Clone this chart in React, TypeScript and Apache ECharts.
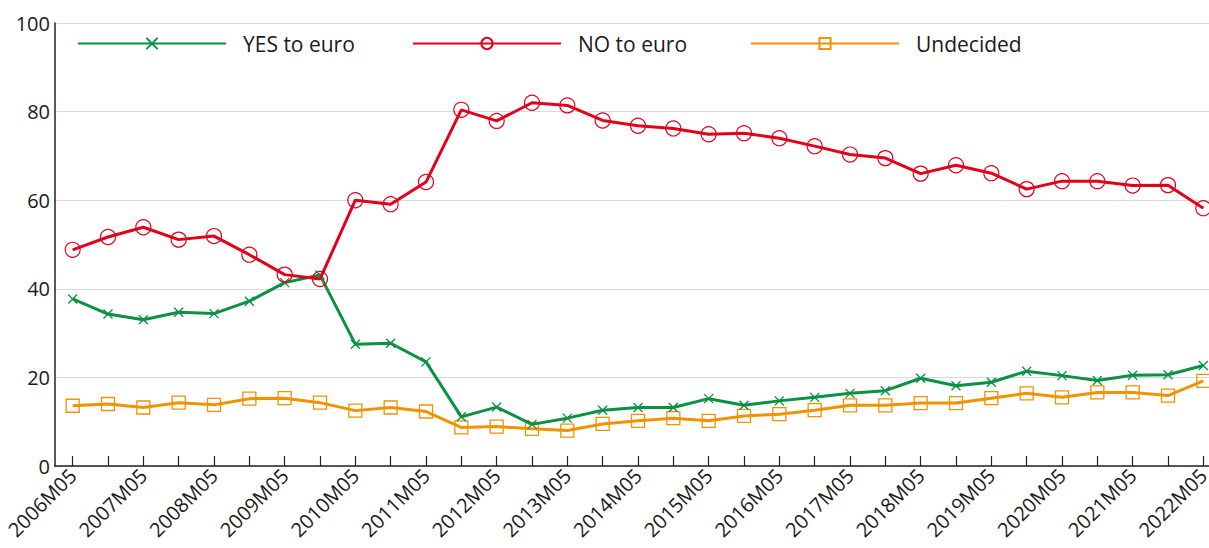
import React, { useEffect, useRef } from 'react';
import * as echarts from 'echarts';

const categories = [
  '2006M05', '2006M11', '2007M05', '2007M11', '2008M05', '2008M11', '2009M05', '2009M11',
  '2010M05', '2010M11', '2011M05', '2011M11', '2012M05', '2012M11', '2013M05', '2013M11',
  '2014M05', '2014M11', '2015M05', '2015M11', '2016M05', '2016M11', '2017M05', '2017M11',
  '2018M05', '2018M11', '2019M05', '2019M11', '2020M05', '2020M11', '2021M05', '2021M11',
  '2022M05',
];

const yesToEuro = [
  37.7, 34.3, 33.0, 34.7, 34.4, 37.2, 41.4, 43.1, 27.5, 27.7, 23.5, 11.1, 13.3, 9.4, 10.8, 12.6,
  13.2, 13.2, 15.2, 13.7, 14.7, 15.5, 16.4, 17.0, 19.8, 18.1, 18.9, 21.4, 20.4, 19.3, 20.5, 20.6,
  22.7,
];

const noToEuro = [
  48.8, 51.7, 53.9, 51.1, 51.9, 47.7, 43.2, 42.2, 60.0, 59.1, 64.1, 80.4, 77.9, 82.0, 81.4, 78.0,
  76.8, 76.2, 74.9, 75.1, 74.0, 72.2, 70.3, 69.5, 66.0, 67.9, 66.1, 62.5, 64.3, 64.3, 63.3, 63.4,
  58.2,
];

const undecided = [
  13.6, 14.0, 13.2, 14.3, 13.8, 15.2, 15.3, 14.3, 12.5, 13.2, 12.3, 8.7, 8.9, 8.4, 8.0, 9.5,
  10.2, 10.8, 10.2, 11.3, 11.7, 12.6, 13.7, 13.7, 14.2, 14.2, 15.3, 16.4, 15.5, 16.6, 16.6, 15.9,
  19.2,
];

const yTicks = [0, 20, 40, 60, 80, 100];

const GREEN = '#0a9142';
const RED = '#e2001a';
const ORANGE = '#f39200';
const FONT = '"Open Sans", "Noto Sans", sans-serif';

export default function App() {
  const ref = useRef<HTMLDivElement>(null);

  useEffect(() => {
    if (!ref.current) return;
    const chart = echarts.init(ref.current, undefined, { renderer: 'svg' });

    const legendBase = {
      top: 28,
      itemWidth: 148,
      itemHeight: 14,
      textStyle: { fontFamily: FONT, fontSize: 21, color: '#1a1a1a', padding: [0, 0, 0, 12] },
      selectedMode: false as const,
    };

    chart.setOption({
      animation: false,
      textStyle: { fontFamily: FONT },
      legend: [
        { ...legendBase, left: 72, data: ['YES to euro'] },
        { ...legendBase, left: 407, data: ['NO to euro'] },
        { ...legendBase, left: 745, data: ['Undecided'] },
      ],
      grid: {
        left: 55,
        width: 1166,
        top: 23,
        bottom: 82,
        containLabel: false,
        outerBoundsMode: 'none',
      },
      xAxis: {
        type: 'category',
        data: categories,
        boundaryGap: true,
        axisLine: { lineStyle: { color: '#222', width: 1.5 } },
        axisTick: { show: true, inside: true, length: 10, interval: 0, alignWithLabel: true, lineStyle: { color: '#222', width: 1.2 } },
        axisLabel: {
          interval: 1,
          rotate: 45,
          fontSize: 20,
          color: '#1a1a1a',
          fontFamily: FONT,
          margin: 6,
          align: 'right',
          verticalAlign: 'middle',
          padding: [8, 0, 0, 0],
          hideOverlap: false,
        },
        splitLine: { show: false },
      },
      yAxis: {
        type: 'value',
        min: yTicks[0],
        max: yTicks[yTicks.length - 1],
        interval: 20,
        axisLine: { show: true, lineStyle: { color: '#222', width: 1.5 } },
        axisTick: { show: false },
        axisLabel: { fontSize: 20, color: '#1a1a1a', fontFamily: FONT, margin: 5 },
        splitLine: { show: true, lineStyle: { color: '#d9d9d9', width: 1.2 } },
      },
      series: [
        {
          name: 'YES to euro',
          type: 'line',
          data: yesToEuro,
          symbol: 'path://M0,0L10,10M10,0L0,10',
          symbolSize: 9,
          showAllSymbol: true,
          lineStyle: { color: GREEN, width: 3 },
          itemStyle: { color: 'transparent', borderColor: GREEN, borderWidth: 1.3 },
          emphasis: { disabled: true },
          z: 3,
        },
        {
          name: 'NO to euro',
          type: 'line',
          data: noToEuro,
          symbol: 'circle',
          symbolSize: 15,
          showAllSymbol: true,
          lineStyle: { color: RED, width: 3 },
          itemStyle: { color: 'transparent', borderColor: RED, borderWidth: 1.2 },
          emphasis: { disabled: true },
          z: 4,
        },
        {
          name: 'Undecided',
          type: 'line',
          data: undecided,
          symbol: 'rect',
          symbolSize: 13,
          showAllSymbol: true,
          lineStyle: { color: ORANGE, width: 3 },
          itemStyle: { color: 'transparent', borderColor: ORANGE, borderWidth: 1.3 },
          emphasis: { disabled: true },
          z: 2,
        },
      ],
    });

    return () => chart.dispose();
  }, []);

  return (
    <div
      ref={ref}
      style={{ position: 'absolute', left: 0, top: 0, width: 1209, height: 548, background: '#fff' }}
    />
  );
}
